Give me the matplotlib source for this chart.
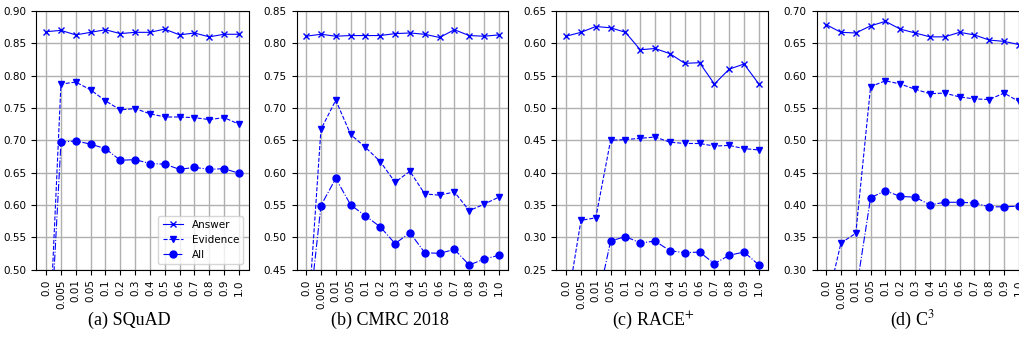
import matplotlib
matplotlib.use('Agg')
import matplotlib.pyplot as plt

ratios = ['0.0', '0.005', '0.01', '0.05', '0.1', '0.2', '0.3', '0.4',
          '0.5', '0.6', '0.7', '0.8', '0.9', '1.0']

# SQuAD
squad_answer = [0.868, 0.870, 0.863, 0.867, 0.871, 0.865, 0.867, 0.867,
                0.872, 0.863, 0.866, 0.860, 0.864, 0.864]
squad_evidence = [0.28, 0.787, 0.790, 0.778, 0.761, 0.747, 0.749, 0.741,
                  0.736, 0.736, 0.735, 0.732, 0.735, 0.725]
squad_all = [0.27, 0.697, 0.699, 0.694, 0.687, 0.669, 0.670, 0.664,
             0.663, 0.655, 0.658, 0.655, 0.656, 0.649]

# CMRC 2018
cmrc_answer = [0.811, 0.814, 0.811, 0.812, 0.812, 0.812, 0.815, 0.816,
               0.814, 0.809, 0.821, 0.812, 0.811, 0.813]
cmrc_evidence = [0.33, 0.667, 0.712, 0.659, 0.639, 0.617, 0.585, 0.602,
                 0.567, 0.565, 0.570, 0.541, 0.551, 0.562]
cmrc_all = [0.34, 0.549, 0.591, 0.550, 0.533, 0.516, 0.490, 0.507,
            0.476, 0.475, 0.481, 0.457, 0.466, 0.472]

# RACE+
race_answer = [0.611, 0.617, 0.626, 0.624, 0.617, 0.590, 0.592, 0.584,
               0.569, 0.570, 0.537, 0.560, 0.568, 0.537]
race_evidence = [0.186, 0.326, 0.330, 0.450, 0.451, 0.453, 0.455, 0.447,
                 0.445, 0.445, 0.441, 0.442, 0.437, 0.435]
race_all = [0.18, 0.18, 0.187, 0.294, 0.301, 0.291, 0.294, 0.279,
            0.276, 0.277, 0.259, 0.272, 0.277, 0.257]

# C3
c3_answer = [0.679, 0.667, 0.666, 0.677, 0.684, 0.672, 0.666, 0.660,
             0.660, 0.667, 0.663, 0.655, 0.653, 0.648]
c3_evidence = [0.243, 0.341, 0.356, 0.583, 0.592, 0.587, 0.579, 0.572,
               0.573, 0.567, 0.564, 0.563, 0.573, 0.560]
c3_all = [0.25, 0.25, 0.263, 0.411, 0.422, 0.413, 0.412, 0.400,
          0.404, 0.404, 0.403, 0.397, 0.397, 0.398]

panels = [
    (squad_answer, squad_evidence, squad_all, (0.50, 0.90), '(a) SQuAD'),
    (cmrc_answer, cmrc_evidence, cmrc_all, (0.45, 0.85), '(b) CMRC 2018'),
    (race_answer, race_evidence, race_all, (0.25, 0.65), r'(c) RACE$^{+}$'),
    (c3_answer, c3_evidence, c3_all, (0.30, 0.70), r'(d) C$^{3}$'),
]

W, H = 1020, 343
fig = plt.figure(figsize=(W / 100, H / 100), dpi=100)

lefts = [36.5, 296.5, 556.5, 816.5]
caption_x = [129, 390, 653, 913]
ax_w, ax_top, ax_bot = 212, 11, 269.5

for i, (ans, evi, alls, ylim, cap) in enumerate(panels):
    ax = fig.add_axes([lefts[i] / W, 1 - ax_bot / H, ax_w / W, (ax_bot - ax_top) / H])
    x = range(len(ratios))
    ax.plot(x, ans, 'b-', marker='x', lw=0.8, ms=5, label='Answer')
    ax.plot(x, evi, 'b--', marker='v', lw=0.8, ms=5, label='Evidence')
    ax.plot(x, alls, 'b-.', marker='o', lw=0.8, ms=5, label='All')
    ax.set_ylim(*ylim)
    ax.set_xticks(list(x))
    ax.set_xticklabels(ratios, rotation=90)
    ax.tick_params(labelsize=7.5)
    ax.grid(True, color='#b0b0b0', lw=1)
    ax.set_axisbelow(True)
    if i == 0:
        ax.legend(loc='lower right', fontsize=7.5)
    fig.text(caption_x[i] / W, 1 - 320 / H, cap, ha='center', va='center',
             fontsize=13, family='Liberation Serif', math_fontfamily='stix')

fig.savefig('out.png', dpi=100)
